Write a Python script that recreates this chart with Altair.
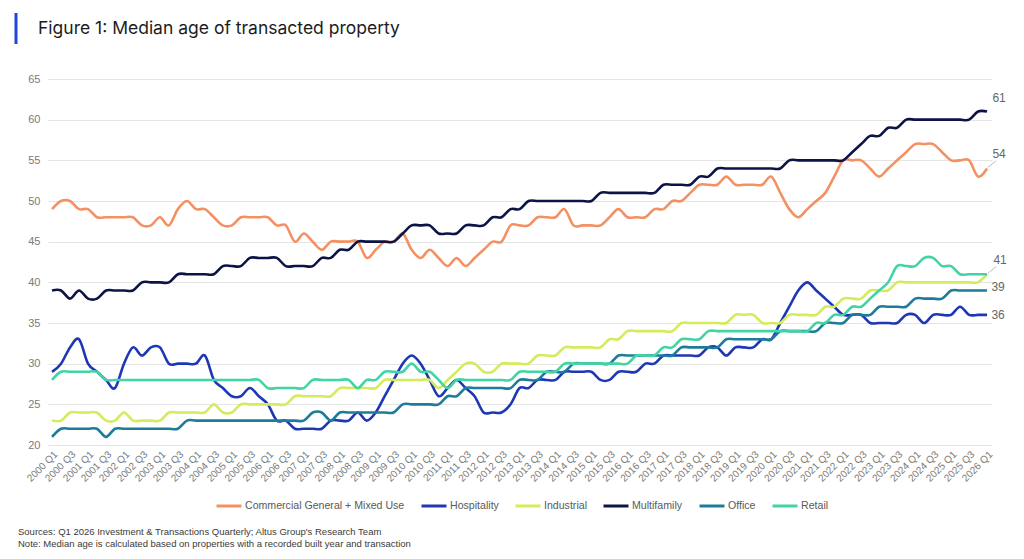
import altair as alt
import pandas as pd

# Quarter tick labels, 2000 Q1 .. 2026 Q1
quarters = [f"{y} Q{q}" for y in range(2000, 2027) for q in range(1, 5)][:105]

series_names = [
    "Commercial General + Mixed Use",
    "Hospitality",
    "Industrial",
    "Multifamily",
    "Office",
    "Retail",
]
series_colors = ["#f39163", "#1e37b4", "#d4eb5c", "#0c1445", "#1c7c99", "#42d4a2"]

commercial = [
    49, 50, 50, 49, 49, 48, 48, 48, 48, 48,
    47, 47, 48, 47, 49, 50, 49, 49, 48, 47,
    47, 48, 48, 48, 48, 47, 47, 45, 46, 45,
    44, 45, 45, 45, 45, 43, 44, 45, 45, 46,
    44, 43, 44, 43, 42, 43, 42, 43, 44, 45,
    45, 47, 47, 47, 48, 48, 48, 49, 47, 47,
    47, 47, 48, 49, 48, 48, 48, 49, 49, 50,
    50, 51, 52, 52, 52, 53, 52, 52, 52, 52,
    53, 51, 49, 48, 49, 50, 51, 53, 55, 55,
    55, 54, 53, 54, 55, 56, 57, 57, 57, 56,
    55, 55, 55, 53, 54,
]
hospitality = [
    29, 30, 32, 33, 30, 29, 28, 27, 30, 32,
    31, 32, 32, 30, 30, 30, 30, 31, 28, 27,
    26, 26, 27, 26, 25, 23, 23, 22, 22, 22,
    22, 23, 23, 23, 24, 23, 24, 26, 28, 30,
    31, 30, 28, 26, 27, 28, 27, 26, 24, 24,
    24, 25, 27, 27, 28, 28, 28, 29, 29, 29,
    29, 28, 28, 29, 29, 29, 30, 30, 31, 31,
    31, 31, 31, 32, 32, 31, 32, 32, 32, 33,
    33, 35, 37, 39, 40, 39, 38, 37, 36, 36,
    36, 35, 35, 35, 35, 36, 36, 35, 36, 36,
    36, 37, 36, 36, 36,
]
industrial = [
    23, 23, 24, 24, 24, 24, 23, 23, 24, 23,
    23, 23, 23, 24, 24, 24, 24, 24, 25, 24,
    24, 25, 25, 25, 25, 25, 25, 26, 26, 26,
    26, 26, 27, 27, 27, 27, 27, 28, 28, 28,
    28, 28, 28, 27, 28, 29, 30, 30, 29, 29,
    30, 30, 30, 30, 31, 31, 31, 32, 32, 32,
    32, 32, 33, 33, 34, 34, 34, 34, 34, 34,
    35, 35, 35, 35, 35, 35, 36, 36, 36, 35,
    35, 35, 36, 36, 36, 36, 37, 37, 38, 38,
    38, 39, 39, 39, 40, 40, 40, 40, 40, 40,
    40, 40, 40, 40, 41,
]
multifamily = [
    39, 39, 38, 39, 38, 38, 39, 39, 39, 39,
    40, 40, 40, 40, 41, 41, 41, 41, 41, 42,
    42, 42, 43, 43, 43, 43, 42, 42, 42, 42,
    43, 43, 44, 44, 45, 45, 45, 45, 45, 46,
    47, 47, 47, 46, 46, 46, 47, 47, 47, 48,
    48, 49, 49, 50, 50, 50, 50, 50, 50, 50,
    50, 51, 51, 51, 51, 51, 51, 51, 52, 52,
    52, 52, 53, 53, 54, 54, 54, 54, 54, 54,
    54, 54, 55, 55, 55, 55, 55, 55, 55, 56,
    57, 58, 58, 59, 59, 60, 60, 60, 60, 60,
    60, 60, 60, 61, 61,
]
office = [
    21, 22, 22, 22, 22, 22, 21, 22, 22, 22,
    22, 22, 22, 22, 22, 23, 23, 23, 23, 23,
    23, 23, 23, 23, 23, 23, 23, 23, 23, 24,
    24, 23, 24, 24, 24, 24, 24, 24, 24, 25,
    25, 25, 25, 25, 26, 26, 27, 27, 27, 27,
    27, 27, 28, 28, 28, 29, 29, 29, 30, 30,
    30, 30, 30, 31, 31, 31, 31, 31, 31, 31,
    32, 32, 32, 32, 32, 33, 33, 33, 33, 33,
    33, 34, 34, 34, 34, 34, 35, 35, 35, 36,
    36, 36, 37, 37, 37, 37, 38, 38, 38, 38,
    39, 39, 39, 39, 39,
]
retail = [
    28, 29, 29, 29, 29, 29, 28, 28, 28, 28,
    28, 28, 28, 28, 28, 28, 28, 28, 28, 28,
    28, 28, 28, 28, 27, 27, 27, 27, 27, 28,
    28, 28, 28, 28, 27, 28, 28, 29, 29, 29,
    30, 29, 29, 28, 27, 28, 28, 28, 28, 28,
    28, 28, 29, 29, 29, 29, 29, 30, 30, 30,
    30, 30, 30, 30, 30, 31, 31, 31, 32, 32,
    33, 33, 33, 34, 34, 34, 34, 34, 34, 34,
    34, 34, 34, 34, 34, 35, 35, 36, 36, 37,
    37, 38, 39, 40, 42, 42, 42, 43, 43, 42,
    42, 41, 41, 41, 41,
]

title_text = "Figure 1: Median age of transacted property"
source_lines = [
    "Sources: Q1 2026 Investment & Transactions Quarterly; Altus Group's Research Team",
    "Note: Median age is calculated based on properties with a recorded built year and transaction",
]

all_values = [commercial, hospitality, industrial, multifamily, office, retail]
rows = []
for name, vals in zip(series_names, all_values):
    for i, v in enumerate(vals):
        rows.append({"t": i, "age": v, "series": name})
df = pd.DataFrame(rows)

last = len(quarters) - 1
label_js = "[" + ",".join(f"'{q}'" for q in quarters) + "]"

W, H = 944, 366
x_scale = alt.Scale(domain=[-0.45, 104.55], nice=False, zero=False)
y_scale = alt.Scale(domain=[20, 65], nice=False, zero=False)

x_axis = alt.Axis(
    values=list(range(0, len(quarters), 2)),
    labelExpr=f"{label_js}[datum.value]",
    labelAngle=-45,
    labelFont="Liberation Sans",
    labelFontSize=10,
    labelColor="#7a7a7a",
    labelPadding=4,
    labelOverlap=False,
    labelFlush=False,
    labelBound=False,
    grid=False,
    ticks=False,
    domain=False,
    title=None,
)
y_axis = alt.Axis(
    values=list(range(20, 66, 5)),
    labelFont="Liberation Sans",
    labelFontSize=11,
    labelColor="#7a7a7a",
    labelPadding=8,
    labelOverlap=False,
    grid=True,
    gridColor="#e4e4e4",
    gridWidth=1,
    ticks=False,
    domain=False,
    title=None,
)

# Every positioned layer shares one identical x / y definition
x_enc = alt.X("t:Q", scale=x_scale, axis=x_axis)
y_enc = alt.Y("age:Q", scale=y_scale, axis=y_axis)

lines = (
    alt.Chart(df)
    .mark_line(interpolate="cardinal", strokeWidth=2.6)
    .encode(
        x=x_enc,
        y=y_enc,
        color=alt.Color(
            "series:N",
            scale=alt.Scale(domain=series_names, range=series_colors),
            legend=alt.Legend(
                title=None,
                orient="none",
                direction="horizontal",
                legendX=167,
                legendY=413,
                symbolType="stroke",
                symbolSize=625,
                symbolStrokeWidth=3,
                labelFont="Liberation Sans",
                labelFontSize=10.6,
                labelColor="#595959",
                labelOffset=2,
                labelLimit=0,
                columnPadding=10,
            ),
        ),
        order=alt.Order("t:Q"),
    )
)

# End-of-series value labels
end_labels = [
    {"t": last, "age": multifamily[-1], "label": str(multifamily[-1]), "dx": 12, "dy": -14},
    {"t": last, "age": commercial[-1], "label": str(commercial[-1]), "dx": 12, "dy": -14},
    {"t": last, "age": retail[-1], "label": str(retail[-1]), "dx": 13, "dy": -14},
    {"t": last, "age": office[-1], "label": str(office[-1]), "dx": 11, "dy": -3},
    {"t": last, "age": hospitality[-1], "label": str(hospitality[-1]), "dx": 11, "dy": 0},
]
label_layers = []
for lab in end_labels:
    label_layers.append(
        alt.Chart(pd.DataFrame([lab]))
        .mark_text(
            font="Liberation Sans", fontSize=12, color="#666666",
            align="center", baseline="middle", dx=lab["dx"], dy=lab["dy"],
        )
        .encode(x=x_enc, y=y_enc, text="label:N")
    )

# Leader lines for the two labels lifted above their series
leaders = pd.DataFrame([
    {"t": last + 0.1, "age": commercial[-1] + 0.12, "t2": last + 1.0, "age2": commercial[-1] + 0.95},
    {"t": last + 0.1, "age": retail[-1] + 0.12, "t2": last + 1.05, "age2": retail[-1] + 0.95},
])
leader_rules = (
    alt.Chart(leaders)
    .mark_rule(color="#bdbdbd", strokeWidth=1)
    .encode(x=x_enc, x2="t2:Q", y=y_enc, y2="age2:Q")
)

title_mark = (
    alt.Chart(pd.DataFrame({"txt": [title_text]}))
    .mark_text(font="Inter", fontSize=17.5, color="#1c1c1c", align="left", baseline="middle")
    .encode(text="txt:N", x=alt.value(-10), y=alt.value(-50))
)
accent_bar = (
    alt.Chart(pd.DataFrame({"k": [0]}))
    .mark_rule(color="#1f44e0", strokeWidth=3)
    .encode(x=alt.value(-32), y=alt.value(-66), y2=alt.value(-35))
)
source_marks = [
    alt.Chart(pd.DataFrame({"txt": [line]}))
    .mark_text(font="Liberation Sans", fontSize=9.5, color="#3a3a3a", align="left", baseline="middle")
    .encode(text="txt:N", x=alt.value(-30), y=alt.value(453 + 12 * k))
    for k, line in enumerate(source_lines)
]

chart = (
    alt.layer(lines, leader_rules, *label_layers, title_mark, accent_bar, *source_marks)
    .properties(
        width=W,
        height=H,
        autosize=alt.AutoSizeParams(type="none"),
        padding={"left": 48, "top": 79, "right": 32, "bottom": 114},
        background="white",
    )
    .configure_view(stroke=None)
    .configure_axisX(labelOverlap=False)
)

chart.save("out.html", embed_options={"renderer": "svg", "actions": False})
